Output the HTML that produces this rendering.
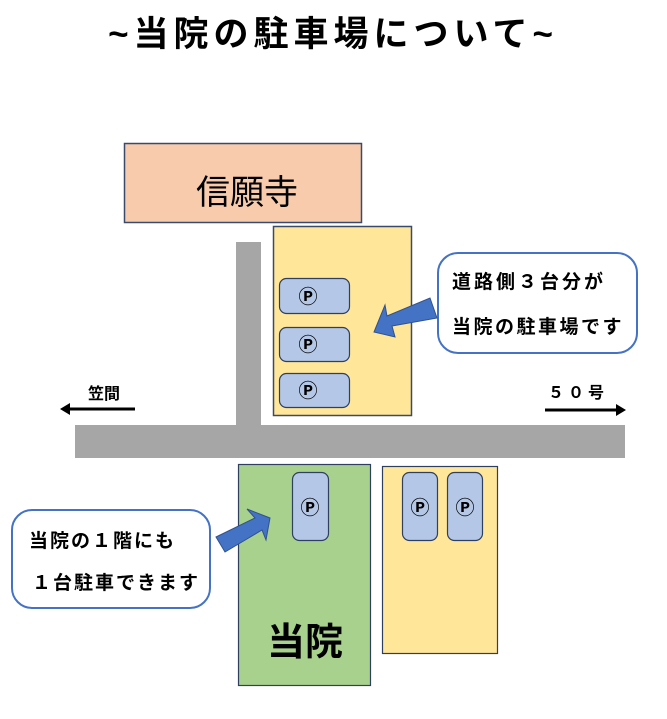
<!DOCTYPE html>
<html><head><meta charset="utf-8"><style>
body{margin:0;background:#fff;width:667px;height:714px;overflow:hidden}
svg text{font-family:"Liberation Sans","Noto Sans CJK JP",sans-serif}
</style></head><body>
<svg width="667" height="714" xmlns="http://www.w3.org/2000/svg">
<text x="333" y="46" text-anchor="middle" font-size="35" font-weight="bold" letter-spacing="5">~当院の駐車場について~</text>
<rect x="124.5" y="143.5" width="237" height="79" fill="#f8cbad" stroke="#3a4a6a" stroke-width="1.5"/>
<text x="247" y="204" text-anchor="middle" font-size="34">信願寺</text>
<rect x="236" y="242" width="25" height="190" fill="#a6a6a6"/>
<rect x="75" y="425" width="550" height="33" fill="#a6a6a6"/>
<rect x="273.5" y="226.5" width="138" height="189" fill="#ffe699" stroke="#3a4a6a" stroke-width="1.5"/>
<g fill="#b4c7e7" stroke="#2f3f5f" stroke-width="1.2">
<rect x="279.5" y="278.5" width="70" height="35" rx="7"/>
<rect x="279.5" y="327.5" width="70" height="34" rx="7"/>
<rect x="279.5" y="373.5" width="70" height="34" rx="7"/>
<rect x="238.5" y="464.5" width="132" height="221" fill="#a9d18e"/>
<rect x="382.5" y="466.5" width="115" height="187" fill="#ffe699"/>
<rect x="292.5" y="472.5" width="36" height="68" rx="7"/>
<rect x="402.5" y="472.5" width="35" height="68" rx="7"/>
<rect x="447.5" y="472.5" width="35" height="68" rx="7"/>
</g>
<g font-size="19" text-anchor="middle" font-weight="bold">
<text x="308" y="303">Ⓟ</text><text x="308" y="351">Ⓟ</text><text x="308" y="397">Ⓟ</text>
<text x="310" y="514">Ⓟ</text><text x="420" y="514">Ⓟ</text><text x="465" y="514">Ⓟ</text>
</g>
<text x="305" y="655" text-anchor="middle" font-size="38" font-weight="bold">当院</text>
<rect x="438" y="253" width="199" height="100" rx="20" fill="#fff" stroke="#4472c4" stroke-width="2"/>
<text x="452" y="288" font-size="19" font-weight="bold" letter-spacing="3">道路側３台分が</text>
<text x="452" y="333" font-size="19" font-weight="bold" letter-spacing="2.5">当院の駐車場です</text>
<polygon points="430,298 437,318 392,326 395,337 374,332 385,305 387,316" fill="#4472c4" stroke="#2f528f" stroke-width="1"/>
<rect x="12" y="510" width="198" height="98" rx="20" fill="#fff" stroke="#4472c4" stroke-width="2"/>
<text x="29" y="547" font-size="19" font-weight="bold" letter-spacing="2">当院の１階にも</text>
<text x="32" y="589" font-size="19" font-weight="bold" letter-spacing="2">１台駐車できます</text>
<polygon points="216,537 225,552 262,530 266,540 270,518 247,509 255,518" fill="#4472c4" stroke="#2f528f" stroke-width="1"/>
<text x="104" y="399" text-anchor="middle" font-size="16" font-weight="bold">笠間</text>
<line x1="135" y1="409" x2="68" y2="409" stroke="#000" stroke-width="3"/>
<polygon points="60,409 70,403 70,415" fill="#000"/>
<text x="578" y="398" text-anchor="middle" font-size="16" font-weight="bold" letter-spacing="4">５０号</text>
<line x1="545" y1="410" x2="617" y2="410" stroke="#000" stroke-width="3"/>
<polygon points="626,410 616,404 616,416" fill="#000"/>
</svg>
</body></html>
